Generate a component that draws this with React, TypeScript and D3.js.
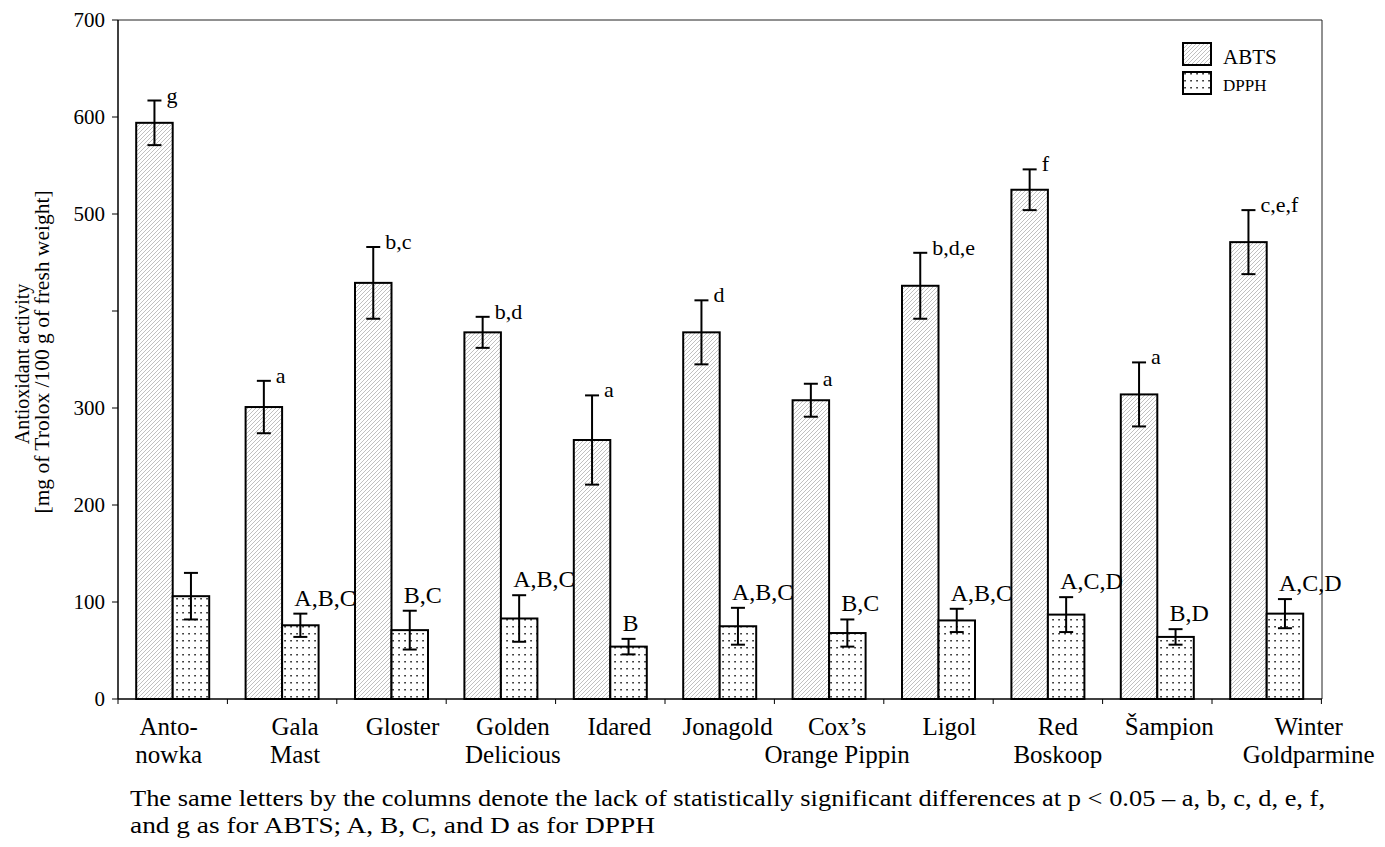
import React from "react";
import * as d3 from "d3";

const categoryLabels: string[][] = [
  ["Anto-", "nowka"],
  ["Gala", "Mast"],
  ["Gloster"],
  ["Golden", "Delicious"],
  ["Idared"],
  ["Jonagold"],
  ["Cox’s", "Orange Pippin"],
  ["Ligol"],
  ["Red", "Boskoop"],
  ["Šampion"],
  ["Winter", "Goldparmine"],
];
const abtsValues = [594, 301, 429, 378, 267, 378, 308, 426, 525, 314, 471];
const abtsErrors = [23, 27, 37, 16, 46, 33, 17, 34, 21, 33, 33];
const dpphValues = [106, 76, 71, 83, 54, 75, 68, 81, 87, 64, 88];
const dpphErrors = [24, 12, 20, 24, 8, 19, 14, 12, 18, 8, 15];
const abtsLetters = ["g", "a", "b,c", "b,d", "a", "d", "a", "b,d,e", "f", "a", "c,e,f"];
const dpphLetters = ["", "A,B,C", "B,C", "A,B,C", "B", "A,B,C", "B,C", "A,B,C", "A,C,D", "B,D", "A,C,D"];
const yTickValues = [0, 100, 200, 300, 400, 500, 600, 700];
const yTickLabels = ["0", "100", "200", "300", "", "500", "600", "700"];
const seriesNames = ["ABTS", "DPPH"];
const yTitleLines = ["Antioxidant activity", "[mg of Trolox /100 g of fresh weight]"];
const footnoteLines = [
  "The same letters by the columns denote the lack of statistically significant differences at p < 0.05 – a, b, c, d, e, f,",
  "and g as for ABTS; A, B, C, and D as for DPPH",
];

// layout-only nudges for the category captions (horizontal, px)
const captionNudge = [-4, 13, 11, 12, 9, 8, 8, 11, 10, 12, 42];

const W = 1385;
const H = 847;
const left = 118;
const right = 1321.4;
const top = 20;
const bottom = 699;
const FONT = "'Liberation Serif', 'Times New Roman', serif";

export default function App() {
  const x = d3
    .scaleBand<number>()
    .domain(d3.range(categoryLabels.length))
    .range([left, right])
    .padding(0);
  const y = d3.scaleLinear().domain([0, 700]).range([bottom, top]);
  const barW = 36.5;
  const cap = 7;

  const bars = categoryLabels.map((_, i) => {
    const c = (x(i) as number) + x.bandwidth() / 2;
    return { i, c };
  });

  return (
    <svg
      width={W}
      height={H}
      style={{ position: "absolute", left: 0, top: 0, background: "#fff" }}
      fontFamily={FONT}
    >
      <defs>
        <pattern id="hatch" patternUnits="userSpaceOnUse" width="4" height="4">
          <rect width="4" height="4" fill="#fff" />
          <path d="M0,4 L4,0 M-1,1 L1,-1 M3,5 L5,3" stroke="#b0b0b0" strokeWidth="0.8" />
        </pattern>
        <pattern id="dots" patternUnits="userSpaceOnUse" width="6" height="7">
          <rect width="6" height="7" fill="#fff" />
          <rect x="2.3" y="3" width="1.5" height="1.5" fill="#111" />
        </pattern>
      </defs>
      <rect width={W} height={H} fill="#fff" />

      {/* frame */}
      <line x1={left} x2={right + 0.6} y1={top} y2={top} stroke="#222" strokeWidth={1} />
      <line x1={right + 0.6} x2={right + 0.6} y1={top} y2={bottom} stroke="#222" strokeWidth={1} />

      {/* bars */}
      {bars.map(({ i, c }) => {
        const ya = y(abtsValues[i]);
        const yd = y(dpphValues[i]);
        return (
          <g key={i}>
            <rect x={c - barW} y={ya} width={barW} height={bottom - ya} fill="url(#hatch)" stroke="#000" strokeWidth={2} />
            <rect x={c} y={yd} width={barW} height={bottom - yd} fill="url(#dots)" stroke="#000" strokeWidth={2} />
          </g>
        );
      })}

      {/* error bars */}
      {bars.map(({ i, c }) => {
        const ca = c - barW / 2;
        const cd = c + barW / 2;
        const a1 = y(abtsValues[i] + abtsErrors[i]);
        const a0 = y(abtsValues[i] - abtsErrors[i]);
        const d1 = y(dpphValues[i] + dpphErrors[i]);
        const d0 = y(dpphValues[i] - dpphErrors[i]);
        return (
          <g key={"e" + i} stroke="#000" strokeWidth={2}>
            <line x1={ca} x2={ca} y1={a1} y2={a0} />
            <line x1={ca - cap} x2={ca + cap} y1={a1} y2={a1} />
            <line x1={ca - cap} x2={ca + cap} y1={a0} y2={a0} />
            <line x1={cd} x2={cd} y1={d1} y2={d0} />
            <line x1={cd - cap} x2={cd + cap} y1={d1} y2={d1} />
            <line x1={cd - cap} x2={cd + cap} y1={d0} y2={d0} />
          </g>
        );
      })}

      {/* significance letters */}
      {bars.map(({ i, c }) => {
        const ca = c - barW / 2;
        const cd = c + barW / 2;
        const a1 = y(abtsValues[i] + abtsErrors[i]);
        const d1 = y(dpphValues[i] + dpphErrors[i]);
        return (
          <g key={"l" + i}>
            <text x={ca + 12} y={a1 + 2} fontSize={22} fill="#000">
              {abtsLetters[i]}
            </text>
            {dpphLetters[i] && (
              <text x={cd - 6} y={d1 - 8} fontSize={24} fill="#000">
                {dpphLetters[i]}
              </text>
            )}
          </g>
        );
      })}

      {/* y axis */}
      <line x1={left} x2={left} y1={top} y2={bottom} stroke="#000" strokeWidth={1.5} />
      {yTickValues.map((v, k) => (
        <g key={"yt" + v}>
          <line x1={left - 6} x2={left} y1={y(v)} y2={y(v)} stroke="#000" strokeWidth={1} />
          <text x={left - 13} y={y(v)} dy="0.35em" textAnchor="end" fontSize={21} fill="#000">
            {yTickLabels[k]}
          </text>
        </g>
      ))}

      {/* x axis */}
      <line x1={left} x2={right + 0.6} y1={bottom} y2={bottom} stroke="#000" strokeWidth={1.5} />
      {d3.range(categoryLabels.length + 1).map((k) => {
        const xx = k < categoryLabels.length ? (x(k) as number) : right;
        return <line key={"xt" + k} x1={xx} x2={xx} y1={bottom} y2={bottom + 5} stroke="#000" strokeWidth={1} />;
      })}
      {bars.map(({ i, c }) => (
        <text key={"xl" + i} y={735} textAnchor="middle" fontSize={25} fill="#000">
          {categoryLabels[i].map((ln, j) => (
            <tspan key={j} x={c + captionNudge[i]} dy={j === 0 ? 0 : 28}>
              {ln}
            </tspan>
          ))}
        </text>
      ))}

      {/* y title */}
      <g transform={`translate(29, 352) rotate(-90)`}>
        <text x={-12} textAnchor="middle" fontSize={20} fill="#000">
          {yTitleLines[0]}
        </text>
        <text y={20} textAnchor="middle" fontSize={21.5} fill="#000">
          {yTitleLines[1]}
        </text>
      </g>

      {/* legend */}
      <rect x={1183} y={43} width={28} height={22} fill="url(#hatch)" stroke="#000" strokeWidth={2} />
      <text x={1223} y={64} fontSize={21} fill="#000">
        {seriesNames[0]}
      </text>
      <rect x={1183} y={72} width={28} height={22} fill="url(#dots)" stroke="#000" strokeWidth={2} />
      <text x={1223} y={91} fontSize={17} fill="#000">
        {seriesNames[1]}
      </text>

      {/* footnote */}
      <text x={130} y={806} fontSize={23} fill="#000" textLength={1195} lengthAdjust="spacingAndGlyphs">
        {footnoteLines[0]}
      </text>
      <text x={130} y={833} fontSize={23} fill="#000" textLength={525} lengthAdjust="spacingAndGlyphs">
        {footnoteLines[1]}
      </text>
    </svg>
  );
}
